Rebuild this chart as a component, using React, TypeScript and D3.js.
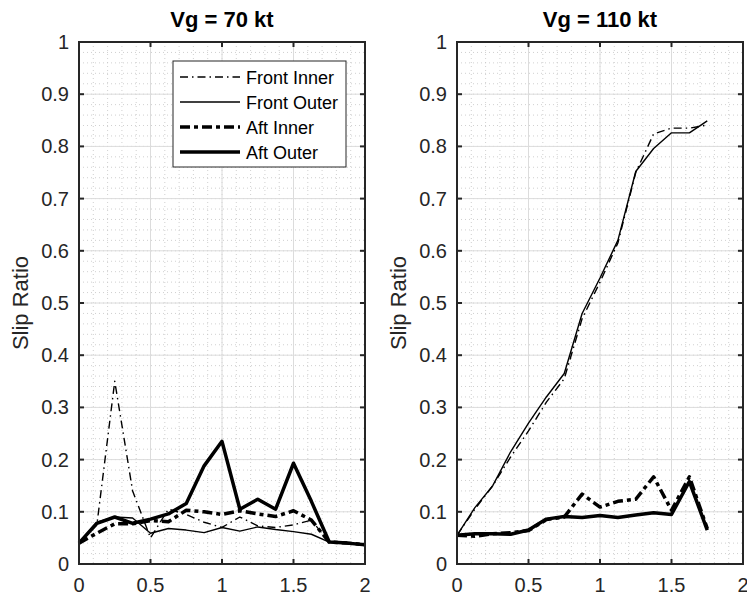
import React from "react"
import * as d3 from "d3"

// sample positions (x axis)
const x70 = [0, 0.125, 0.25, 0.375, 0.5, 0.625, 0.75, 0.875, 1, 1.125, 1.25, 1.375, 1.5, 1.625, 1.75, 1.875, 2]
const x110 = [0, 0.125, 0.25, 0.375, 0.5, 0.625, 0.75, 0.875, 1, 1.125, 1.25, 1.375, 1.5, 1.625, 1.75]

// Vg = 70 kt
const frontInner70 = [0.04, 0.075, 0.35, 0.14, 0.05, 0.105, 0.095, 0.08, 0.07, 0.09, 0.073, 0.07, 0.075, 0.084, 0.042, 0.04, 0.037]
const frontOuter70 = [0.04, 0.08, 0.09, 0.088, 0.059, 0.068, 0.065, 0.06, 0.07, 0.063, 0.071, 0.066, 0.062, 0.057, 0.042, 0.04, 0.037]
const aftInner70 = [0.04, 0.059, 0.077, 0.077, 0.083, 0.081, 0.103, 0.1, 0.095, 0.102, 0.096, 0.091, 0.102, 0.084, 0.042, 0.04, 0.037]
const aftOuter70 = [0.04, 0.078, 0.09, 0.078, 0.086, 0.096, 0.116, 0.188, 0.235, 0.105, 0.124, 0.105, 0.193, 0.12, 0.042, 0.04, 0.037]

// Vg = 110 kt
const frontInner110 = [0.055, 0.105, 0.15, 0.205, 0.255, 0.31, 0.355, 0.47, 0.54, 0.615, 0.75, 0.824, 0.835, 0.835, 0.841]
const frontOuter110 = [0.055, 0.108, 0.15, 0.215, 0.27, 0.32, 0.365, 0.48, 0.548, 0.62, 0.752, 0.796, 0.826, 0.826, 0.849]
const aftInner110 = [0.055, 0.053, 0.058, 0.06, 0.064, 0.085, 0.09, 0.134, 0.109, 0.12, 0.124, 0.167, 0.103, 0.167, 0.068]
const aftOuter110 = [0.055, 0.058, 0.058, 0.057, 0.065, 0.086, 0.091, 0.089, 0.093, 0.089, 0.094, 0.098, 0.095, 0.158, 0.065]

const seriesNames = ["Front Inner", "Front Outer", "Aft Inner", "Aft Outer"]
const xTicks = [0, 0.5, 1, 1.5, 2]
const yTicks = [0, 0.1, 0.2, 0.3, 0.4, 0.5, 0.6, 0.7, 0.8, 0.9, 1]

const FONT = "'Liberation Sans', Arial, Helvetica, sans-serif"
const AX = "#262626"

// line styles per series
const styles = [
  { width: 1.4, dash: "8,4,1.5,4" },
  { width: 1.4, dash: "" },
  { width: 3.5, dash: "10,4,4,4" },
  { width: 3.5, dash: "" },
]

function Panel({ left, title, xs, series }: { left: number; title: string; xs: number[]; series: number[][] }) {
  const top = 42, bottom = 564, width = 286
  const x = d3.scaleLinear().domain([0, 2]).range([left, left + width])
  const y = d3.scaleLinear().domain([0, 1]).range([bottom, top])
  const minorX = d3.range(0, 2.0001, 0.1)
  const minorY = d3.range(0, 1.0001, 0.02)
  const line = d3.line<number>().x((d, i) => x(xs[i])).y(d => y(d))
  const tl = 5
  return (
    <g>
      <rect x={left} y={top} width={width} height={bottom - top} fill="#fff" />
      {minorX.map((v, i) => (
        <line key={"mx" + i} x1={x(v)} x2={x(v)} y1={top} y2={bottom} stroke="#c4c4c4" strokeWidth={0.8} strokeDasharray="1,3" />
      ))}
      {minorY.map((v, i) => (
        <line key={"my" + i} x1={left} x2={left + width} y1={y(v)} y2={y(v)} stroke="#c4c4c4" strokeWidth={0.8} strokeDasharray="1,3" />
      ))}
      {xTicks.map(v => (
        <line key={"gx" + v} x1={x(v)} x2={x(v)} y1={top} y2={bottom} stroke="#dcdcdc" strokeWidth={1} />
      ))}
      {yTicks.map(v => (
        <line key={"gy" + v} x1={left} x2={left + width} y1={y(v)} y2={y(v)} stroke="#dcdcdc" strokeWidth={1} />
      ))}
      {series.map((s, i) => (
        <path key={"s" + i} d={line(s) || ""} fill="none" stroke="#000" strokeWidth={styles[i].width}
          strokeDasharray={styles[i].dash} strokeLinejoin="round" />
      ))}
      {/* ticks, inward on all four sides */}
      {xTicks.map(v => (
        <g key={"tx" + v}>
          <line x1={x(v)} x2={x(v)} y1={bottom} y2={bottom - tl} stroke={AX} strokeWidth={2} />
          <line x1={x(v)} x2={x(v)} y1={top} y2={top + tl} stroke={AX} strokeWidth={2} />
          <text x={x(v)} y={592} textAnchor="middle" fontSize={20} fill={AX} fontFamily={FONT}>{String(v)}</text>
        </g>
      ))}
      {yTicks.map(v => (
        <g key={"ty" + v}>
          <line x1={left} x2={left + tl} y1={y(v)} y2={y(v)} stroke={AX} strokeWidth={2} />
          <line x1={left + width} x2={left + width - tl} y1={y(v)} y2={y(v)} stroke={AX} strokeWidth={2} />
          <text x={left - 10} y={y(v) + 7} textAnchor="end" fontSize={20} fill={AX} fontFamily={FONT}>{String(v)}</text>
        </g>
      ))}
      <rect x={left} y={top} width={width} height={bottom - top} fill="none" stroke={AX} strokeWidth={2} />
      <text x={left + width / 2} y={27} textAnchor="middle" fontSize={22} fontWeight="bold" fill="#000" fontFamily={FONT}>{title}</text>
      <text transform={`translate(${left - 51},${(top + bottom) / 2}) rotate(-90)`} textAnchor="middle" fontSize={22}
        fill={AX} fontFamily={FONT}>Slip Ratio</text>
    </g>
  )
}

function Legend() {
  const x0 = 173, y0 = 61
  return (
    <g>
      <rect x={x0} y={y0} width={173} height={106} fill="#fff" stroke={AX} strokeWidth={1} />
      {seriesNames.map((n, i) => {
        const yy = y0 + 16 + i * 25
        return (
          <g key={n}>
            <line x1={x0 + 7} x2={x0 + 67} y1={yy} y2={yy} stroke="#000" strokeWidth={styles[i].width} strokeDasharray={styles[i].dash} />
            <text x={x0 + 73} y={yy + 6.5} fontSize={18} fill="#000" fontFamily={FONT}>{n}</text>
          </g>
        )
      })}
    </g>
  )
}

export default function App() {
  return (
    <svg width={747} height={595} style={{ position: "absolute", left: 0, top: 0, background: "#fff" }}>
      <rect width={747} height={595} fill="#fff" />
      <Panel left={79} title="Vg = 70 kt" xs={x70} series={[frontInner70, frontOuter70, aftInner70, aftOuter70]} />
      <Panel left={457} title="Vg = 110 kt" xs={x110} series={[frontInner110, frontOuter110, aftInner110, aftOuter110]} />
      <Legend />
    </svg>
  )
}
